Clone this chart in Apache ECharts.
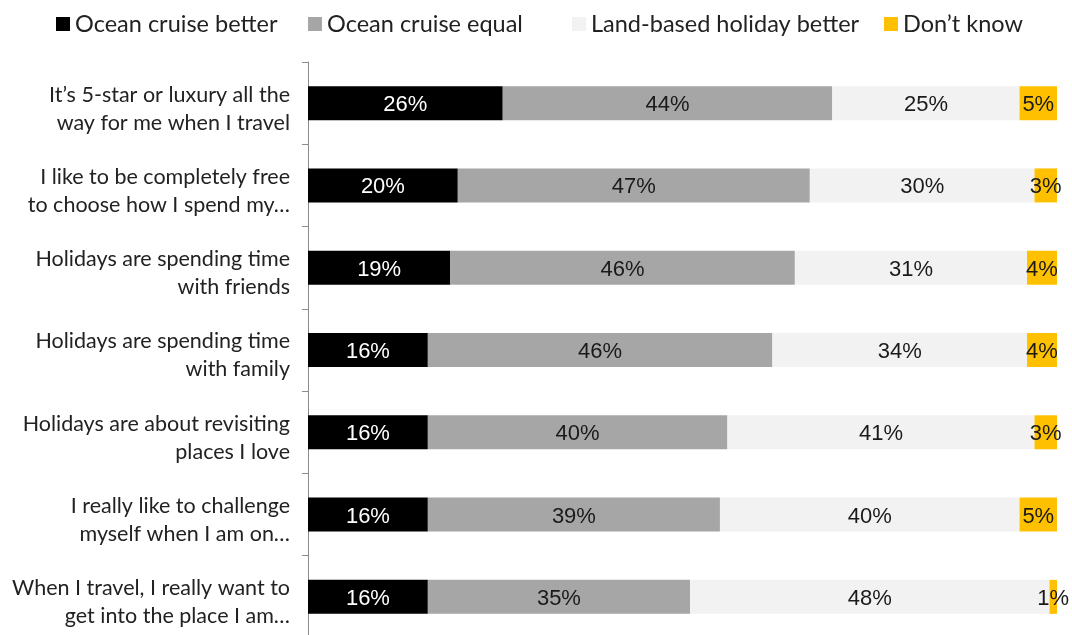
<!DOCTYPE html>
<html>
<head>
<meta charset="utf-8">
<script src="https://cdn.jsdelivr.net/npm/echarts@6/dist/echarts.min.js"></script>
<style>
  html, body { margin: 0; padding: 0; background: #fff; }
  #chart { width: 1072px; height: 635px; }
</style>
</head>
<body>
<div id="chart"></div>
<script>
// Attitude statements (top to bottom)
const categories = [
  "It\u2019s 5-star or luxury all the\nway for me when I travel",
  "I like to be completely free\nto choose how I spend my\u2026",
  "Holidays are spending time\nwith friends",
  "Holidays are spending time\nwith family",
  "Holidays are about revisiting\nplaces I love",
  "I really like to challenge\nmyself when I am on\u2026",
  "When I travel, I really want to\nget into the place I am\u2026"
];

// Share of respondents (%) per answer
const oceanBetter = [26, 20, 19, 16, 16, 16, 16];
const oceanEqual  = [44, 47, 46, 46, 40, 39, 35];
const landBetter  = [25, 30, 31, 34, 41, 40, 48];
const dontKnow    = [5, 3, 4, 4, 3, 5, 1];

const seriesNames = ["Ocean cruise better", "Ocean cruise equal", "Land-based holiday better", "Don\u2019t know"];

const colors = ["#000000", "#A6A6A6", "#F2F2F2", "#FFC000"];
const labelColors = ["#ffffff", "#1a1a1a", "#1a1a1a", "#1a1a1a"];
const dataSets = [oceanBetter, oceanEqual, landBetter, dontKnow];

// Horizontal start of each legend entry across the top row
const legendLefts = [51, 303, 567, 879];

const chart = echarts.init(document.getElementById("chart"), null, { renderer: "canvas" });

const series = dataSets.map((values, i) => ({
  name: seriesNames[i],
  type: "bar",
  stack: "total",
  barWidth: 34,
  data: values,
  itemStyle: { color: colors[i] },
  label: {
    show: true,
    position: "inside",
    formatter: "{c}%",
    color: labelColors[i],
    fontFamily: "Liberation Sans, Arial, sans-serif",
    fontSize: 22,
    textBorderWidth: 0,
    offset: [0, 2]
  },
  emphasis: { disabled: true }
}));

const legends = seriesNames.map((name, i) => ({
  top: 7,
  left: legendLefts[i],
  itemWidth: 14,
  itemHeight: 14,
  icon: "rect",
  selectedMode: false,
  textStyle: {
    fontFamily: "Lato, sans-serif",
    fontSize: 23.5,
    color: "#222"
  },
  data: [name]
}));

const labelFont = { fontFamily: "Lato, sans-serif", fontSize: 21.5, lineHeight: 28, color: "#222" };

chart.setOption({
  animation: false,
  legend: legends,
  grid: {
    left: 308,
    right: 15,
    top: 62,
    height: 576,
    outerBoundsMode: "none",
    containLabel: false
  },
  xAxis: {
    type: "value",
    min: 0,
    max: 100,
    show: false
  },
  yAxis: {
    type: "category",
    inverse: true,
    data: categories,
    axisLine: { show: true, lineStyle: { color: "#8c8c8c", width: 1 } },
    axisTick: { show: true, length: 6, lineStyle: { color: "#8c8c8c" } },
    axisLabel: {
      margin: 18,
      fontFamily: "Lato, sans-serif",
      fontSize: 21.5,
      color: "#222",
      align: "right",
      verticalAlign: "middle",
      // A thin spacer line on top nudges the two text lines below the bar centre
      rich: {
        s: { fontSize: 1, lineHeight: 11 },
        t: labelFont
      },
      formatter: function (value) {
        const lines = value.split("\n");
        return "{s| }\n" + lines.map(l => "{t|" + l + "}").join("\n");
      }
    }
  },
  series: series
});
</script>
</body>
</html>
